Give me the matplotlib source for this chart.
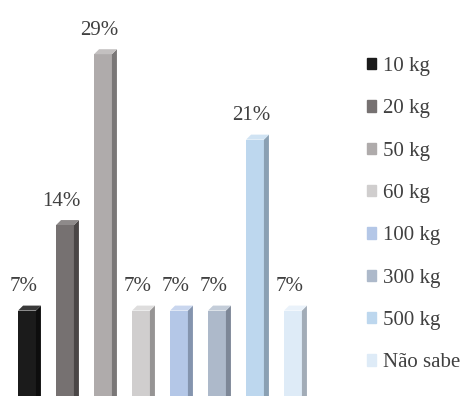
import matplotlib.pyplot as plt
from matplotlib.patches import Polygon, Patch

categories = ['10 kg', '20 kg', '50 kg', '60 kg', '100 kg', '300 kg', '500 kg', 'Não sabe']
values = [7.14, 14.29, 28.57, 7.14, 7.14, 7.14, 21.43, 7.14]
labels = ['7%', '14%', '29%', '7%', '7%', '7%', '21%', '7%']
front = ['#1b1b1b', '#767171', '#afabab', '#d0cece', '#b4c7e7', '#adb9ca', '#bdd7ee', '#deebf7']
side = ['#0d0d0d', '#4a4646', '#7a7777', '#969494', '#8494ae', '#7d8797', '#8aa0b3', '#a2acb7']
top = ['#3a3a3a', '#8e8a8a', '#c3c0c0', '#dedddd', '#c9d6ee', '#c4cdd9', '#d0e3f3', '#eaf2fa']

plt.rcParams['font.family'] = ['Liberation Serif', 'DejaVu Serif']

fig = plt.figure(figsize=(4.72, 3.96), dpi=100)
ax = fig.add_axes([0, 0, 340 / 472, 1])
ax.set_xlim(-27 / 38, 313 / 38)
ax.set_ylim(0, 33.1)
ax.axis('off')

w = 0.47
dx = 5 / 38
dy = 5 / 12
for i, v in enumerate(values):
    x0 = i - w / 2
    x1 = i + w / 2
    ax.bar(i, v, width=w, color=front[i], linewidth=0)
    ax.add_patch(Polygon([(x1, 0), (x1, v), (x1 + dx, v + dy), (x1 + dx, 0)],
                         closed=True, color=side[i], linewidth=0))
    ax.add_patch(Polygon([(x0, v), (x1, v), (x1 + dx, v + dy), (x0 + dx, v + dy)],
                         closed=True, color=top[i], linewidth=0))
    ax.text(i - 0.1, v + 1.2, labels[i], ha='center', va='bottom',
            fontsize=15, color='#404040')

handles = [Patch(color=c) for c in front]
fig.legend(handles, categories, loc='upper left', bbox_to_anchor=(367 / 472, 1 - 57 / 396),
           frameon=False, fontsize=15, handlelength=0.45, handleheight=0.45,
           handletextpad=0.3, labelspacing=1.12, borderaxespad=0, borderpad=0,
           labelcolor='#404040')

fig.savefig('out.png', dpi=100)
